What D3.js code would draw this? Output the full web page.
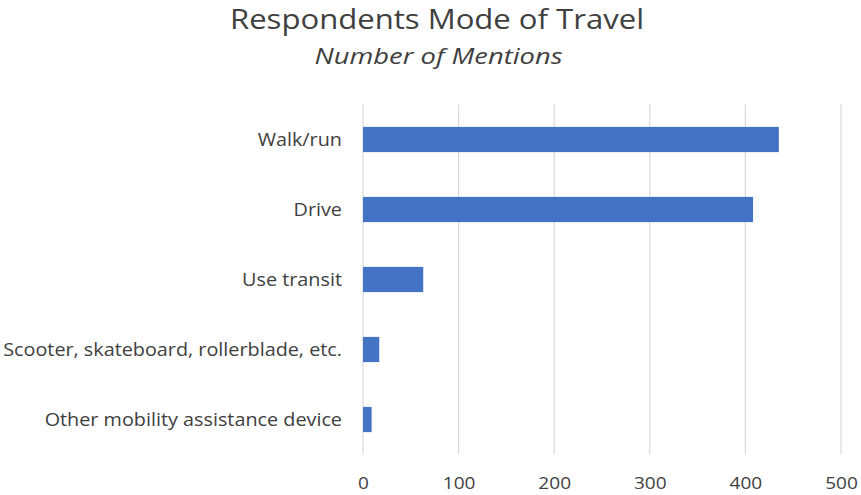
<!DOCTYPE html>
<html>
<head>
<meta charset="utf-8">
<script src="https://cdn.jsdelivr.net/npm/d3@7"></script>
<style>
  html, body { margin: 0; padding: 0; background: #fff; }
  svg { display: block; }
</style>
</head>
<body>
<svg id="chart" width="861" height="495"></svg>
<script>
// Travel modes and number of mentions
const categories = [
  "Walk/run",
  "Drive",
  "Use transit",
  "Scooter, skateboard, rollerblade, etc.",
  "Other mobility assistance device"
];
const mentions = [435, 408, 63, 17, 9];
const tickValues = [0, 100, 200, 300, 400, 500];

const width = 861, height = 495;
const margin = { top: 104.5, right: 20, bottom: 40.5, left: 363 };

const svg = d3.select("#chart");
const font = "'Open Sans', 'DejaVu Sans', sans-serif";
const textColor = "#404040";

// Widen glyphs horizontally by a factor, keeping the anchor point
function widen(sel, factor) {
  sel.each(function () {
    const w = this.getComputedTextLength();
    d3.select(this)
      .attr("textLength", w * factor)
      .attr("lengthAdjust", "spacingAndGlyphs");
  });
}

const x = d3.scaleLinear()
  .domain([0, 500])
  .range([margin.left, 841]);

const y = d3.scaleBand()
  .domain(categories)
  .range([margin.top, height - margin.bottom])
  .paddingInner(0.64)
  .paddingOuter(0.32);

// Vertical gridlines
svg.append("g")
  .selectAll("line")
  .data(tickValues)
  .join("line")
  .attr("x1", d => x(d))
  .attr("x2", d => x(d))
  .attr("y1", margin.top)
  .attr("y2", height - margin.bottom)
  .attr("stroke", "#d9d9d9")
  .attr("stroke-width", 1.2);

// Bars
svg.append("g")
  .selectAll("rect")
  .data(categories)
  .join("rect")
  .attr("x", x(0))
  .attr("y", d => y(d))
  .attr("width", (d, i) => x(mentions[i]) - x(0))
  .attr("height", y.bandwidth())
  .attr("fill", "#4472c4");

// Category labels
svg.append("g")
  .selectAll("text")
  .data(categories)
  .join("text")
  .attr("x", 342)
  .attr("y", d => y(d) + y.bandwidth() / 2)
  .attr("dy", "0.36em")
  .attr("text-anchor", "end")
  .attr("font-family", font)
  .attr("font-size", 18.5)
  .attr("fill", textColor)
  .text(d => d)
  .call(widen, 1.07);

// Value axis labels
const xAxis = d3.axisBottom(x)
  .tickValues(tickValues)
  .tickSize(0)
  .tickPadding(0);

const axisG = svg.append("g")
  .attr("transform", `translate(0, ${height - margin.bottom})`)
  .call(xAxis);
axisG.select(".domain").remove();
axisG.selectAll("text")
  .attr("y", 0)
  .attr("dy", 34.5)
  .attr("font-family", font)
  .attr("font-size", 17)
  .attr("fill", textColor)
  .call(widen, 1.12);

// Title and subtitle
svg.append("text")
  .attr("x", 437)
  .attr("y", 28.5)
  .attr("text-anchor", "middle")
  .attr("font-family", font)
  .attr("font-size", 28)
  .attr("fill", textColor)
  .text("Respondents Mode of Travel")
  .call(widen, 1.11);

svg.append("text")
  .attr("x", 438.5)
  .attr("y", 64)
  .attr("text-anchor", "middle")
  .attr("font-family", font)
  .attr("font-style", "italic")
  .attr("font-size", 21.5)
  .attr("fill", textColor)
  .text("Number of Mentions")
  .call(widen, 1.27);
</script>
</body>
</html>
